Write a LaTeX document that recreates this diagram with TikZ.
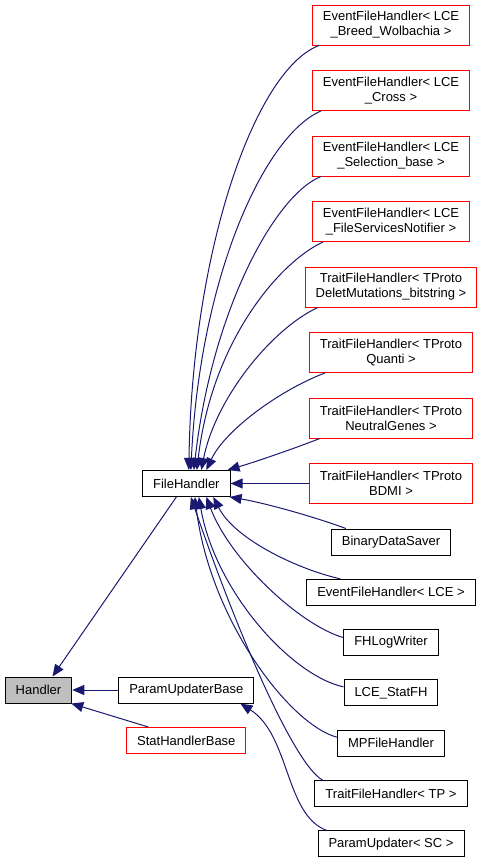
\documentclass[tikz,border=0pt]{standalone}
\usepackage{fontspec}
\setmainfont{Liberation Sans}
\usetikzlibrary{positioning}
\usetikzlibrary{arrows.meta}
\definecolor{edgeblue}{HTML}{191970}
\definecolor{basegrey}{HTML}{BFBFBF}

\begin{document}
\begin{tikzpicture}[x=1pt, y=-1pt, font=\fontsize{13}{15}\selectfont,
    cls/.style = {draw=black, line width=1pt, inner xsep=10.5pt, inner ysep=2pt, minimum height=26pt},
    undoc/.style = {cls, draw=red},
    twoline/.style = {align=center, minimum height=40pt},
    inherit/.style = {draw=edgeblue, line width=1pt, -{Triangle[length=12pt,width=10pt]}}]
          \useasboundingbox (0,0) rectangle (484,865);
          \node[cls, fill=basegrey] (handler) at (38.5,690) {Handler};
          \node[cls] (updaterbase) [right=46pt of handler] {ParamUpdaterBase};
          \node[undoc] (statbase) [below=23.5pt of updaterbase] {StatHandlerBase};
          \node[cls] (filehandler) [above=179.5pt of updaterbase] {FileHandler};
          \node[undoc, twoline] (breed) at (391,25) {EventFileHandler< LCE\\\_Breed\_Wolbachia >};
          \node[undoc, twoline] (cross) [below=24.5pt of breed] {EventFileHandler< LCE\\\_Cross >};
          \node[undoc, twoline] (selection) [below=24.5pt of cross] {EventFileHandler< LCE\\\_Selection\_base >};
          \node[undoc, twoline] (notifier) [below=24.5pt of selection] {EventFileHandler< LCE\\\_FileServicesNotifier >};
          \node[undoc, twoline] (delet) [below=24.5pt of notifier] {TraitFileHandler< TProto\\DeletMutations\_bitstring >};
          \node[undoc, twoline] (quanti) [below=24.5pt of delet] {TraitFileHandler< TProto\\Quanti >};
          \node[undoc, twoline] (neutral) [below=24.5pt of quanti] {TraitFileHandler< TProto\\NeutralGenes >};
          \node[undoc, twoline] (bdmi) [below=24.5pt of neutral] {TraitFileHandler< TProto\\BDMI >};
          \node[cls] (binsaver) [below=24.5pt of bdmi] {BinaryDataSaver};
          \node[cls] (eventlce) [below=23.3pt of binsaver] {EventFileHandler< LCE >};
          \node[cls] (logwriter) [below=23.3pt of eventlce] {FHLogWriter};
          \node[cls] (statfh) [below=23.3pt of logwriter] {LCE\_StatFH};
          \node[cls] (mpfile) [below=23.3pt of statfh] {MPFileHandler};
          \node[cls] (traittp) [below=23.3pt of mpfile] {TraitFileHandler< TP >};
          \node[cls] (paramsc) [below=23.3pt of traittp] {ParamUpdater< SC >};
          % bases of Handler
          \draw[inherit] ([xshift=-10pt]filehandler.south) -- ([xshift=14pt]handler.north);
          \draw[inherit] (updaterbase) -- (handler);
          \draw[inherit] ([xshift=-38pt]statbase.north) -- ([xshift=-1pt]handler.south east);
          \draw[inherit] ([xshift=9pt]paramsc.north west) .. controls (285,815) and (290,735) .. ([xshift=-14pt]updaterbase.south east);
          % children of FileHandler
          \draw[inherit] ([xshift=7pt]breed.south west) .. controls (255,70) and (192,250) .. ([xshift=2.5pt]filehandler.north);
          \draw[inherit] ([xshift=9pt]cross.south west) .. controls (265,135) and (200,275) .. ([xshift=4.5pt]filehandler.north);
          \draw[inherit] ([xshift=9pt]selection.south west) .. controls (275,195) and (212,310) .. ([xshift=7.5pt]filehandler.north);
          \draw[inherit] ([xshift=11pt]notifier.south west) .. controls (280,262) and (212,340) .. ([xshift=10.5pt]filehandler.north);
          \draw[inherit] ([xshift=13pt]delet.south west) .. controls (270,330) and (215,400) .. ([xshift=15pt]filehandler.north);
          \draw[inherit] ([xshift=16pt]quanti.south west) .. controls (280,390) and (225,430) .. ([xshift=20pt]filehandler.north);
          \draw[inherit] ([xshift=11pt]neutral.south west) .. controls (290,450) and (255,462) .. ([xshift=-3pt]filehandler.north east);
          \draw[inherit] (bdmi) -- (filehandler);
          \draw[inherit] ([xshift=15pt]binsaver.north west) .. controls (315,517) and (265,503) .. ([xshift=-1pt]filehandler.south east);
          \draw[inherit] ([xshift=34pt]eventlce.north west) .. controls (300,570) and (235,540) .. ([xshift=27pt]filehandler.south);
          \draw[inherit] ([yshift=5pt]logwriter.west) .. controls (300,625) and (230,560) .. ([xshift=20pt]filehandler.south);
          \draw[inherit] ([yshift=6pt]statfh.west) .. controls (290,675) and (215,590) .. ([xshift=12.5pt]filehandler.south);
          \draw[inherit] ([yshift=6pt]mpfile.west) .. controls (290,725) and (210,620) .. ([xshift=8.5pt]filehandler.south);
          \draw[inherit] ([xshift=8pt]traittp.north west) .. controls (295,765) and (240,640) .. ([xshift=4.5pt]filehandler.south);
        \end{tikzpicture}
\end{document}
